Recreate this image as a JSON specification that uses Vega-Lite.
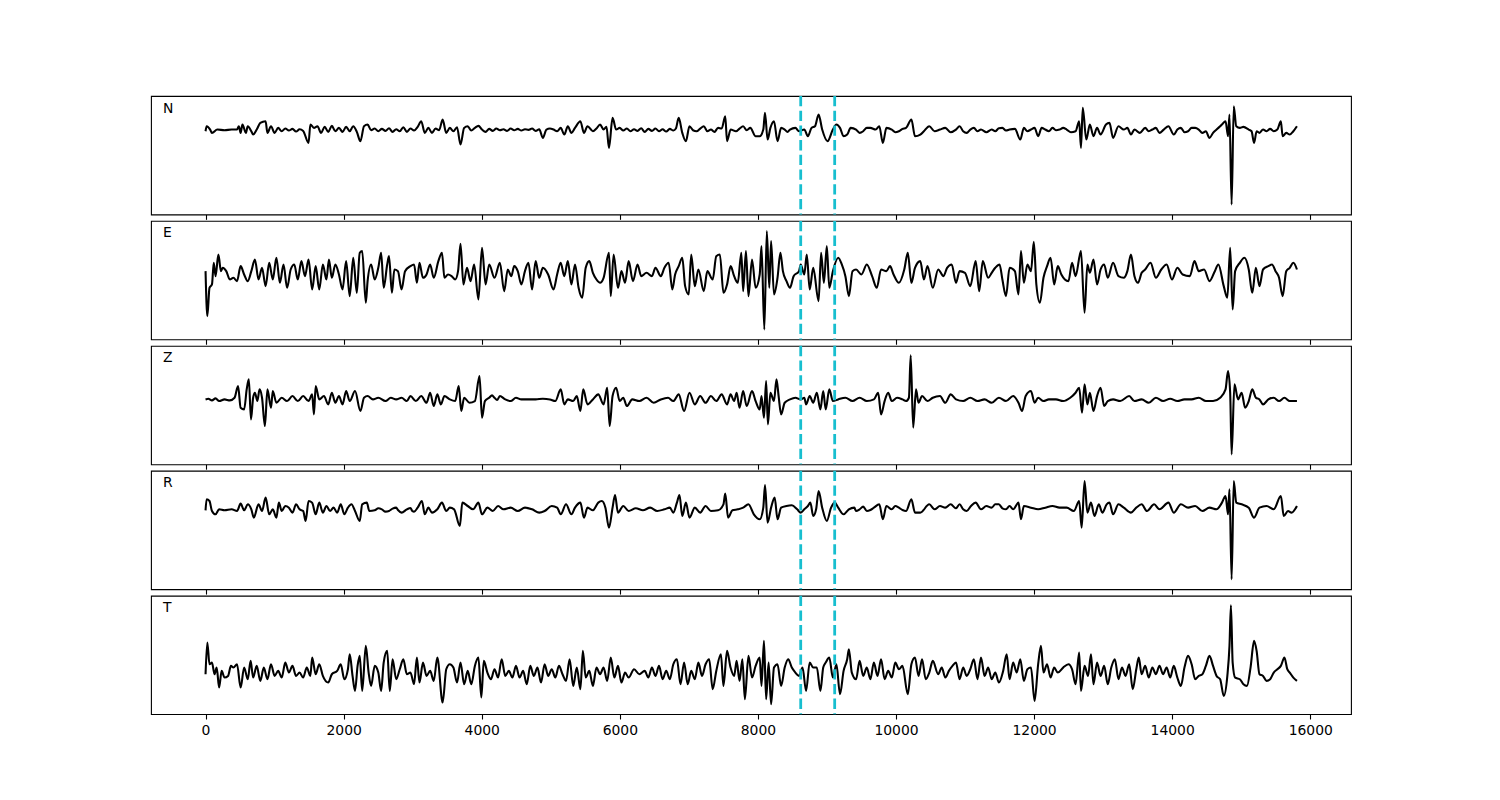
{
"$schema":"https://vega.github.io/schema/vega-lite/v6.json",
"background":"white",
"padding":{"left":150,"top":94,"right":10,"bottom":10},
"spacing":5.92,
"bounds":"flush",
"config":{"view":{"stroke":"black","strokeWidth":1.1},"font":"DejaVu Sans","axis":{"domain":false,"grid":false,"ticks":true,"tickSize":4.86,"tickWidth":1.1,"tickColor":"black","labelFont":"DejaVu Sans","labelFontSize":13.9,"labelColor":"black","labelPadding":4.86,"format":"d"}},
"datasets":{
"picks":[{"t":8620},{"t":9112}],
"trace":[
{"c":"N","x":0,"v":72},{"c":"N","x":16,"v":87},{"c":"N","x":67,"v":77},{"c":"N","x":93,"v":67},{"c":"N","x":171,"v":77},{"c":"N","x":275,"v":75},{"c":"N","x":378,"v":77},{"c":"N","x":456,"v":77},{"c":"N","x":482,"v":87},{"c":"N","x":508,"v":67},{"c":"N","x":534,"v":92},{"c":"N","x":585,"v":67},{"c":"N","x":611,"v":87},{"c":"N","x":663,"v":72},{"c":"N","x":689,"v":62},{"c":"N","x":741,"v":77},{"c":"N","x":793,"v":97},{"c":"N","x":870,"v":102},{"c":"N","x":896,"v":67},{"c":"N","x":948,"v":87},{"c":"N","x":1000,"v":67},{"c":"N","x":1052,"v":82},{"c":"N","x":1103,"v":72},{"c":"N","x":1155,"v":80},{"c":"N","x":1207,"v":74},{"c":"N","x":1259,"v":79},{"c":"N","x":1311,"v":71},{"c":"N","x":1362,"v":78},{"c":"N","x":1414,"v":73},{"c":"N","x":1492,"v":37},{"c":"N","x":1518,"v":92},{"c":"N","x":1570,"v":82},{"c":"N","x":1621,"v":87},{"c":"N","x":1673,"v":67},{"c":"N","x":1725,"v":85},{"c":"N","x":1777,"v":70},{"c":"N","x":1829,"v":88},{"c":"N","x":1880,"v":72},{"c":"N","x":1932,"v":82},{"c":"N","x":1984,"v":70},{"c":"N","x":2036,"v":85},{"c":"N","x":2088,"v":72},{"c":"N","x":2139,"v":87},{"c":"N","x":2191,"v":70},{"c":"N","x":2243,"v":42},{"c":"N","x":2295,"v":87},{"c":"N","x":2347,"v":92},{"c":"N","x":2398,"v":75},{"c":"N","x":2450,"v":80},{"c":"N","x":2502,"v":72},{"c":"N","x":2554,"v":79},{"c":"N","x":2606,"v":73},{"c":"N","x":2657,"v":81},{"c":"N","x":2709,"v":70},{"c":"N","x":2761,"v":78},{"c":"N","x":2813,"v":72},{"c":"N","x":2864,"v":84},{"c":"N","x":2916,"v":70},{"c":"N","x":2968,"v":80},{"c":"N","x":3020,"v":74},{"c":"N","x":3072,"v":85},{"c":"N","x":3124,"v":102},{"c":"N","x":3175,"v":67},{"c":"N","x":3227,"v":82},{"c":"N","x":3279,"v":67},{"c":"N","x":3331,"v":80},{"c":"N","x":3383,"v":75},{"c":"N","x":3434,"v":107},{"c":"N","x":3486,"v":67},{"c":"N","x":3538,"v":82},{"c":"N","x":3590,"v":72},{"c":"N","x":3642,"v":84},{"c":"N","x":3693,"v":32},{"c":"N","x":3745,"v":82},{"c":"N","x":3797,"v":87},{"c":"N","x":3849,"v":74},{"c":"N","x":3901,"v":82},{"c":"N","x":3952,"v":88},{"c":"N","x":4004,"v":77},{"c":"N","x":4056,"v":70},{"c":"N","x":4108,"v":79},{"c":"N","x":4160,"v":73},{"c":"N","x":4211,"v":80},{"c":"N","x":4263,"v":75},{"c":"N","x":4315,"v":78},{"c":"N","x":4367,"v":73},{"c":"N","x":4419,"v":80},{"c":"N","x":4470,"v":75},{"c":"N","x":4522,"v":79},{"c":"N","x":4574,"v":74},{"c":"N","x":4626,"v":78},{"c":"N","x":4677,"v":76},{"c":"N","x":4729,"v":80},{"c":"N","x":4781,"v":73},{"c":"N","x":4833,"v":78},{"c":"N","x":4885,"v":52},{"c":"N","x":4937,"v":77},{"c":"N","x":4988,"v":80},{"c":"N","x":5040,"v":77},{"c":"N","x":5092,"v":72},{"c":"N","x":5144,"v":82},{"c":"N","x":5196,"v":62},{"c":"N","x":5247,"v":87},{"c":"N","x":5299,"v":67},{"c":"N","x":5351,"v":82},{"c":"N","x":5429,"v":102},{"c":"N","x":5480,"v":67},{"c":"N","x":5532,"v":87},{"c":"N","x":5610,"v":72},{"c":"N","x":5662,"v":80},{"c":"N","x":5714,"v":92},{"c":"N","x":5765,"v":77},{"c":"N","x":5807,"v":85},{"c":"N","x":5843,"v":22},{"c":"N","x":5895,"v":112},{"c":"N","x":5947,"v":77},{"c":"N","x":5998,"v":82},{"c":"N","x":6050,"v":74},{"c":"N","x":6102,"v":80},{"c":"N","x":6154,"v":72},{"c":"N","x":6206,"v":78},{"c":"N","x":6257,"v":73},{"c":"N","x":6309,"v":81},{"c":"N","x":6361,"v":70},{"c":"N","x":6413,"v":79},{"c":"N","x":6465,"v":73},{"c":"N","x":6516,"v":80},{"c":"N","x":6568,"v":72},{"c":"N","x":6620,"v":78},{"c":"N","x":6672,"v":71},{"c":"N","x":6724,"v":79},{"c":"N","x":6776,"v":74},{"c":"N","x":6812,"v":80},{"c":"N","x":6853,"v":112},{"c":"N","x":6905,"v":67},{"c":"N","x":6957,"v":42},{"c":"N","x":7009,"v":87},{"c":"N","x":7060,"v":75},{"c":"N","x":7112,"v":72},{"c":"N","x":7164,"v":80},{"c":"N","x":7216,"v":87},{"c":"N","x":7268,"v":72},{"c":"N","x":7320,"v":77},{"c":"N","x":7371,"v":70},{"c":"N","x":7423,"v":82},{"c":"N","x":7475,"v":80},{"c":"N","x":7527,"v":117},{"c":"N","x":7553,"v":42},{"c":"N","x":7605,"v":77},{"c":"N","x":7682,"v":72},{"c":"N","x":7734,"v":80},{"c":"N","x":7786,"v":87},{"c":"N","x":7838,"v":75},{"c":"N","x":7890,"v":82},{"c":"N","x":7967,"v":57},
{"c":"N","x":8026,"v":57},{"c":"N","x":8078,"v":77},{"c":"N","x":8103,"v":127},{"c":"N","x":8140,"v":47},{"c":"N","x":8181,"v":82},{"c":"N","x":8233,"v":102},{"c":"N","x":8284,"v":42},{"c":"N","x":8336,"v":82},{"c":"N","x":8388,"v":77},{"c":"N","x":8429,"v":70},{"c":"N","x":8465,"v":77},{"c":"N","x":8543,"v":82},{"c":"N","x":8595,"v":72},{"c":"N","x":8672,"v":77},{"c":"N","x":8724,"v":57},{"c":"N","x":8776,"v":82},{"c":"N","x":8827,"v":87},{"c":"N","x":8879,"v":122},{"c":"N","x":8931,"v":77},{"c":"N","x":9008,"v":42},{"c":"N","x":9086,"v":77},{"c":"N","x":9137,"v":92},{"c":"N","x":9189,"v":82},{"c":"N","x":9241,"v":57},{"c":"N","x":9293,"v":62},{"c":"N","x":9344,"v":82},{"c":"N","x":9422,"v":77},{"c":"N","x":9473,"v":67},{"c":"N","x":9525,"v":72},{"c":"N","x":9577,"v":82},{"c":"N","x":9629,"v":82},{"c":"N","x":9706,"v":77},{"c":"N","x":9758,"v":87},{"c":"N","x":9810,"v":37},{"c":"N","x":9861,"v":82},{"c":"N","x":9939,"v":77},{"c":"N","x":9990,"v":69},{"c":"N","x":10042,"v":72},{"c":"N","x":10094,"v":79},{"c":"N","x":10146,"v":82},{"c":"N","x":10223,"v":107},{"c":"N","x":10275,"v":57},{"c":"N","x":10352,"v":62},{"c":"N","x":10404,"v":72},{"c":"N","x":10482,"v":87},{"c":"N","x":10559,"v":72},{"c":"N","x":10637,"v":77},{"c":"N","x":10714,"v":82},{"c":"N","x":10792,"v":69},{"c":"N","x":10869,"v":77},{"c":"N","x":10921,"v":87},{"c":"N","x":10973,"v":72},{"c":"N","x":11024,"v":67},{"c":"N","x":11076,"v":77},{"c":"N","x":11128,"v":82},{"c":"N","x":11180,"v":72},{"c":"N","x":11231,"v":77},{"c":"N","x":11309,"v":69},{"c":"N","x":11386,"v":77},{"c":"N","x":11438,"v":72},{"c":"N","x":11490,"v":81},{"c":"N","x":11541,"v":82},{"c":"N","x":11593,"v":74},{"c":"N","x":11645,"v":77},{"c":"N","x":11722,"v":79},{"c":"N","x":11800,"v":47},{"c":"N","x":11852,"v":82},{"c":"N","x":11903,"v":72},{"c":"N","x":11955,"v":77},{"c":"N","x":12007,"v":82},{"c":"N","x":12059,"v":57},{"c":"N","x":12110,"v":82},{"c":"N","x":12162,"v":77},{"c":"N","x":12214,"v":72},{"c":"N","x":12266,"v":82},{"c":"N","x":12317,"v":75},{"c":"N","x":12369,"v":77},{"c":"N","x":12421,"v":82},{"c":"N","x":12472,"v":77},{"c":"N","x":12534,"v":69},{"c":"N","x":12601,"v":72},{"c":"N","x":12653,"v":102},{"c":"N","x":12679,"v":22},{"c":"N","x":12705,"v":142},{"c":"N","x":12756,"v":47},{"c":"N","x":12808,"v":92},{"c":"N","x":12860,"v":57},{"c":"N","x":12912,"v":82},{"c":"N","x":12963,"v":62},{"c":"N","x":13041,"v":92},{"c":"N","x":13092,"v":97},{"c":"N","x":13144,"v":52},{"c":"N","x":13222,"v":87},{"c":"N","x":13299,"v":77},{"c":"N","x":13351,"v":82},{"c":"N","x":13403,"v":62},{"c":"N","x":13454,"v":77},{"c":"N","x":13532,"v":67},{"c":"N","x":13609,"v":82},{"c":"N","x":13661,"v":72},{"c":"N","x":13713,"v":77},{"c":"N","x":13764,"v":82},{"c":"N","x":13816,"v":67},{"c":"N","x":13878,"v":77},{"c":"N","x":13946,"v":87},{"c":"N","x":14023,"v":62},{"c":"N","x":14075,"v":77},{"c":"N","x":14126,"v":82},{"c":"N","x":14178,"v":69},{"c":"N","x":14230,"v":72},{"c":"N","x":14282,"v":82},{"c":"N","x":14333,"v":82},{"c":"N","x":14385,"v":77},{"c":"N","x":14437,"v":67},{"c":"N","x":14488,"v":72},{"c":"N","x":14540,"v":52},{"c":"N","x":14592,"v":67},{"c":"N","x":14643,"v":77},{"c":"N","x":14695,"v":87},{"c":"N","x":14721,"v":92},{"c":"N","x":14773,"v":102},{"c":"N","x":14809,"v":57},{"c":"N","x":14830,"v":122},{"c":"N","x":14861,"v":-148},{"c":"N","x":14892,"v":147},{"c":"N","x":14928,"v":87},{"c":"N","x":14980,"v":82},{"c":"N","x":15032,"v":85},{"c":"N","x":15109,"v":77},{"c":"N","x":15150,"v":72},{"c":"N","x":15186,"v":37},{"c":"N","x":15223,"v":72},{"c":"N","x":15264,"v":67},{"c":"N","x":15316,"v":77},{"c":"N","x":15367,"v":72},{"c":"N","x":15419,"v":79},{"c":"N","x":15471,"v":72},{"c":"N","x":15523,"v":77},{"c":"N","x":15574,"v":102},{"c":"N","x":15600,"v":57},{"c":"N","x":15652,"v":67},{"c":"N","x":15703,"v":62},{"c":"N","x":15755,"v":72},{"c":"N","x":15807,"v":87},
{"c":"E","x":0,"v":27},{"c":"E","x":26,"v":-108},{"c":"E","x":57,"v":-23},{"c":"E","x":93,"v":-13},{"c":"E","x":119,"v":52},{"c":"E","x":145,"v":12},{"c":"E","x":186,"v":77},{"c":"E","x":223,"v":27},{"c":"E","x":249,"v":37},{"c":"E","x":300,"v":27},{"c":"E","x":352,"v":2},{"c":"E","x":404,"v":7},{"c":"E","x":456,"v":-3},{"c":"E","x":508,"v":42},{"c":"E","x":559,"v":17},{"c":"E","x":611,"v":-3},{"c":"E","x":663,"v":27},{"c":"E","x":715,"v":62},{"c":"E","x":767,"v":2},{"c":"E","x":818,"v":37},{"c":"E","x":870,"v":-18},{"c":"E","x":922,"v":52},{"c":"E","x":974,"v":2},{"c":"E","x":1026,"v":67},{"c":"E","x":1077,"v":-8},{"c":"E","x":1129,"v":47},{"c":"E","x":1181,"v":-23},{"c":"E","x":1233,"v":32},{"c":"E","x":1285,"v":47},{"c":"E","x":1336,"v":2},{"c":"E","x":1388,"v":57},{"c":"E","x":1440,"v":12},{"c":"E","x":1492,"v":62},{"c":"E","x":1544,"v":-28},{"c":"E","x":1595,"v":42},{"c":"E","x":1647,"v":-28},{"c":"E","x":1699,"v":47},{"c":"E","x":1751,"v":2},{"c":"E","x":1787,"v":62},{"c":"E","x":1829,"v":7},{"c":"E","x":1880,"v":47},{"c":"E","x":1932,"v":17},{"c":"E","x":1984,"v":-28},{"c":"E","x":2036,"v":57},{"c":"E","x":2088,"v":-48},{"c":"E","x":2139,"v":67},{"c":"E","x":2191,"v":-38},{"c":"E","x":2233,"v":82},{"c":"E","x":2269,"v":87},{"c":"E","x":2321,"v":-68},{"c":"E","x":2347,"v":-3},{"c":"E","x":2398,"v":47},{"c":"E","x":2450,"v":2},{"c":"E","x":2502,"v":37},{"c":"E","x":2543,"v":82},{"c":"E","x":2580,"v":-23},{"c":"E","x":2631,"v":47},{"c":"E","x":2657,"v":72},{"c":"E","x":2699,"v":-38},{"c":"E","x":2735,"v":32},{"c":"E","x":2787,"v":27},{"c":"E","x":2839,"v":-28},{"c":"E","x":2890,"v":27},{"c":"E","x":2968,"v":42},{"c":"E","x":3020,"v":47},{"c":"E","x":3061,"v":-8},{"c":"E","x":3098,"v":52},{"c":"E","x":3149,"v":7},{"c":"E","x":3201,"v":17},{"c":"E","x":3253,"v":47},{"c":"E","x":3305,"v":7},{"c":"E","x":3372,"v":57},{"c":"E","x":3424,"v":82},{"c":"E","x":3460,"v":7},{"c":"E","x":3512,"v":17},{"c":"E","x":3564,"v":12},{"c":"E","x":3616,"v":2},{"c":"E","x":3657,"v":27},{"c":"E","x":3693,"v":109},{"c":"E","x":3735,"v":-13},{"c":"E","x":3787,"v":37},{"c":"E","x":3838,"v":-3},{"c":"E","x":3890,"v":47},{"c":"E","x":3952,"v":-58},{"c":"E","x":4004,"v":97},{"c":"E","x":4056,"v":-13},{"c":"E","x":4108,"v":47},{"c":"E","x":4185,"v":7},{"c":"E","x":4263,"v":52},{"c":"E","x":4325,"v":-33},{"c":"E","x":4377,"v":32},{"c":"E","x":4429,"v":12},{"c":"E","x":4470,"v":42},{"c":"E","x":4522,"v":27},{"c":"E","x":4574,"v":-13},{"c":"E","x":4626,"v":27},{"c":"E","x":4677,"v":52},{"c":"E","x":4729,"v":-28},{"c":"E","x":4781,"v":57},{"c":"E","x":4833,"v":7},{"c":"E","x":4885,"v":37},{"c":"E","x":4962,"v":17},{"c":"E","x":5040,"v":-28},{"c":"E","x":5092,"v":17},{"c":"E","x":5144,"v":52},{"c":"E","x":5196,"v":12},{"c":"E","x":5247,"v":57},{"c":"E","x":5299,"v":-13},{"c":"E","x":5351,"v":47},{"c":"E","x":5403,"v":-23},{"c":"E","x":5455,"v":-53},{"c":"E","x":5506,"v":37},{"c":"E","x":5558,"v":57},{"c":"E","x":5610,"v":22},{"c":"E","x":5662,"v":2},{"c":"E","x":5714,"v":-8},{"c":"E","x":5765,"v":7},{"c":"E","x":5843,"v":82},{"c":"E","x":5869,"v":-48},{"c":"E","x":5910,"v":77},{"c":"E","x":5973,"v":-23},{"c":"E","x":6024,"v":27},{"c":"E","x":6076,"v":-8},{"c":"E","x":6128,"v":57},{"c":"E","x":6190,"v":-3},{"c":"E","x":6257,"v":47},{"c":"E","x":6309,"v":12},{"c":"E","x":6387,"v":22},{"c":"E","x":6465,"v":12},{"c":"E","x":6516,"v":37},{"c":"E","x":6594,"v":12},{"c":"E","x":6646,"v":37},{"c":"E","x":6708,"v":52},{"c":"E","x":6760,"v":-28},{"c":"E","x":6801,"v":17},{"c":"E","x":6853,"v":42},{"c":"E","x":6905,"v":67},{"c":"E","x":6946,"v":-18},{"c":"E","x":6998,"v":-43},{"c":"E","x":7034,"v":77},{"c":"E","x":7086,"v":-18},{"c":"E","x":7138,"v":32},{"c":"E","x":7216,"v":-33},{"c":"E","x":7268,"v":27},{"c":"E","x":7345,"v":2},{"c":"E","x":7397,"v":72},{"c":"E","x":7449,"v":77},{"c":"E","x":7501,"v":-38},{"c":"E","x":7553,"v":-13},{"c":"E","x":7605,"v":42},{"c":"E","x":7656,"v":12},{"c":"E","x":7708,"v":-8},{"c":"E","x":7760,"v":82},{"c":"E","x":7786,"v":-33},{"c":"E","x":7827,"v":87},{"c":"E","x":7863,"v":-48},{"c":"E","x":7915,"v":62},{"c":"E","x":7967,"v":-23},
{"c":"E","x":8026,"v":17},{"c":"E","x":8052,"v":102},{"c":"E","x":8093,"v":-148},{"c":"E","x":8129,"v":147},{"c":"E","x":8165,"v":-23},{"c":"E","x":8191,"v":117},{"c":"E","x":8233,"v":-43},{"c":"E","x":8284,"v":7},{"c":"E","x":8326,"v":82},{"c":"E","x":8362,"v":27},{"c":"E","x":8414,"v":-3},{"c":"E","x":8465,"v":-23},{"c":"E","x":8517,"v":12},{"c":"E","x":8595,"v":27},{"c":"E","x":8620,"v":47},{"c":"E","x":8672,"v":17},{"c":"E","x":8708,"v":77},{"c":"E","x":8750,"v":-28},{"c":"E","x":8801,"v":37},{"c":"E","x":8879,"v":-63},{"c":"E","x":8915,"v":82},{"c":"E","x":8956,"v":-8},{"c":"E","x":8998,"v":102},{"c":"E","x":9034,"v":-23},{"c":"E","x":9086,"v":27},{"c":"E","x":9163,"v":67},{"c":"E","x":9215,"v":47},{"c":"E","x":9267,"v":12},{"c":"E","x":9318,"v":-48},{"c":"E","x":9370,"v":27},{"c":"E","x":9422,"v":32},{"c":"E","x":9499,"v":17},{"c":"E","x":9577,"v":47},{"c":"E","x":9654,"v":12},{"c":"E","x":9722,"v":-23},{"c":"E","x":9784,"v":32},{"c":"E","x":9861,"v":27},{"c":"E","x":9913,"v":42},{"c":"E","x":9965,"v":17},{"c":"E","x":10042,"v":-8},{"c":"E","x":10120,"v":32},{"c":"E","x":10171,"v":82},{"c":"E","x":10223,"v":-8},{"c":"E","x":10275,"v":37},{"c":"E","x":10352,"v":57},{"c":"E","x":10404,"v":2},{"c":"E","x":10456,"v":42},{"c":"E","x":10533,"v":-23},{"c":"E","x":10611,"v":32},{"c":"E","x":10688,"v":12},{"c":"E","x":10740,"v":37},{"c":"E","x":10807,"v":47},{"c":"E","x":10869,"v":-8},{"c":"E","x":10921,"v":27},{"c":"E","x":10999,"v":22},{"c":"E","x":11076,"v":-18},{"c":"E","x":11154,"v":57},{"c":"E","x":11205,"v":-33},{"c":"E","x":11257,"v":57},{"c":"E","x":11335,"v":7},{"c":"E","x":11386,"v":22},{"c":"E","x":11438,"v":37},{"c":"E","x":11500,"v":47},{"c":"E","x":11541,"v":2},{"c":"E","x":11593,"v":-48},{"c":"E","x":11645,"v":37},{"c":"E","x":11722,"v":27},{"c":"E","x":11774,"v":-43},{"c":"E","x":11810,"v":87},{"c":"E","x":11852,"v":-8},{"c":"E","x":11903,"v":47},{"c":"E","x":11955,"v":27},{"c":"E","x":11996,"v":115},{"c":"E","x":12033,"v":-13},{"c":"E","x":12084,"v":-68},{"c":"E","x":12136,"v":7},{"c":"E","x":12188,"v":42},{"c":"E","x":12239,"v":67},{"c":"E","x":12291,"v":-13},{"c":"E","x":12343,"v":42},{"c":"E","x":12395,"v":17},{"c":"E","x":12446,"v":2},{"c":"E","x":12498,"v":-3},{"c":"E","x":12550,"v":52},{"c":"E","x":12601,"v":12},{"c":"E","x":12679,"v":87},{"c":"E","x":12731,"v":-98},{"c":"E","x":12772,"v":47},{"c":"E","x":12808,"v":22},{"c":"E","x":12860,"v":62},{"c":"E","x":12912,"v":-13},{"c":"E","x":12963,"v":32},{"c":"E","x":13015,"v":47},{"c":"E","x":13067,"v":7},{"c":"E","x":13144,"v":52},{"c":"E","x":13222,"v":12},{"c":"E","x":13299,"v":7},{"c":"E","x":13351,"v":27},{"c":"E","x":13403,"v":77},{"c":"E","x":13454,"v":12},{"c":"E","x":13506,"v":-8},{"c":"E","x":13558,"v":22},{"c":"E","x":13609,"v":32},{"c":"E","x":13687,"v":52},{"c":"E","x":13764,"v":7},{"c":"E","x":13842,"v":32},{"c":"E","x":13920,"v":47},{"c":"E","x":13997,"v":2},{"c":"E","x":14075,"v":37},{"c":"E","x":14152,"v":17},{"c":"E","x":14256,"v":12},{"c":"E","x":14323,"v":57},{"c":"E","x":14385,"v":27},{"c":"E","x":14463,"v":32},{"c":"E","x":14540,"v":-3},{"c":"E","x":14618,"v":27},{"c":"E","x":14669,"v":47},{"c":"E","x":14747,"v":-18},{"c":"E","x":14799,"v":-53},{"c":"E","x":14840,"v":97},{"c":"E","x":14876,"v":-88},{"c":"E","x":14912,"v":27},{"c":"E","x":14980,"v":52},{"c":"E","x":15047,"v":67},{"c":"E","x":15109,"v":32},{"c":"E","x":15160,"v":-38},{"c":"E","x":15212,"v":37},{"c":"E","x":15264,"v":-18},{"c":"E","x":15316,"v":32},{"c":"E","x":15393,"v":42},{"c":"E","x":15445,"v":47},{"c":"E","x":15497,"v":27},{"c":"E","x":15548,"v":7},{"c":"E","x":15600,"v":-48},{"c":"E","x":15652,"v":27},{"c":"E","x":15703,"v":37},{"c":"E","x":15755,"v":52},{"c":"E","x":15807,"v":32},
{"c":"Z","x":0,"v":17},{"c":"Z","x":41,"v":19},{"c":"Z","x":93,"v":14},{"c":"Z","x":145,"v":20},{"c":"Z","x":197,"v":12},{"c":"Z","x":275,"v":17},{"c":"Z","x":352,"v":14},{"c":"Z","x":420,"v":22},{"c":"Z","x":471,"v":57},{"c":"Z","x":508,"v":-8},{"c":"Z","x":559,"v":-13},{"c":"Z","x":596,"v":47},{"c":"Z","x":627,"v":77},{"c":"Z","x":658,"v":-43},{"c":"Z","x":689,"v":22},{"c":"Z","x":715,"v":37},{"c":"Z","x":751,"v":12},{"c":"Z","x":782,"v":47},{"c":"Z","x":818,"v":22},{"c":"Z","x":860,"v":-63},{"c":"Z","x":896,"v":47},{"c":"Z","x":948,"v":-8},{"c":"Z","x":974,"v":42},{"c":"Z","x":1026,"v":7},{"c":"Z","x":1103,"v":22},{"c":"Z","x":1181,"v":12},{"c":"Z","x":1259,"v":27},{"c":"Z","x":1336,"v":12},{"c":"Z","x":1414,"v":27},{"c":"Z","x":1492,"v":12},{"c":"Z","x":1544,"v":32},{"c":"Z","x":1570,"v":-28},{"c":"Z","x":1595,"v":57},{"c":"Z","x":1647,"v":17},{"c":"Z","x":1715,"v":27},{"c":"Z","x":1777,"v":2},{"c":"Z","x":1829,"v":37},{"c":"Z","x":1880,"v":7},{"c":"Z","x":1932,"v":27},{"c":"Z","x":1984,"v":2},{"c":"Z","x":2036,"v":42},{"c":"Z","x":2088,"v":12},{"c":"Z","x":2165,"v":42},{"c":"Z","x":2243,"v":-18},{"c":"Z","x":2295,"v":22},{"c":"Z","x":2347,"v":27},{"c":"Z","x":2424,"v":17},{"c":"Z","x":2502,"v":22},{"c":"Z","x":2606,"v":12},{"c":"Z","x":2683,"v":22},{"c":"Z","x":2761,"v":17},{"c":"Z","x":2839,"v":22},{"c":"Z","x":2916,"v":12},{"c":"Z","x":2968,"v":27},{"c":"Z","x":3046,"v":12},{"c":"Z","x":3124,"v":27},{"c":"Z","x":3201,"v":7},{"c":"Z","x":3253,"v":37},{"c":"Z","x":3305,"v":-3},{"c":"Z","x":3357,"v":32},{"c":"Z","x":3408,"v":2},{"c":"Z","x":3460,"v":27},{"c":"Z","x":3538,"v":17},{"c":"Z","x":3616,"v":12},{"c":"Z","x":3667,"v":57},{"c":"Z","x":3704,"v":-18},{"c":"Z","x":3745,"v":22},{"c":"Z","x":3823,"v":7},{"c":"Z","x":3901,"v":12},{"c":"Z","x":3968,"v":87},{"c":"Z","x":4004,"v":-38},{"c":"Z","x":4046,"v":12},{"c":"Z","x":4108,"v":22},{"c":"Z","x":4149,"v":29},{"c":"Z","x":4185,"v":22},{"c":"Z","x":4222,"v":15},{"c":"Z","x":4263,"v":27},{"c":"Z","x":4341,"v":17},{"c":"Z","x":4419,"v":12},{"c":"Z","x":4496,"v":22},{"c":"Z","x":4574,"v":17},{"c":"Z","x":4677,"v":17},{"c":"Z","x":4781,"v":17},{"c":"Z","x":4885,"v":19},{"c":"Z","x":4988,"v":17},{"c":"Z","x":5066,"v":12},{"c":"Z","x":5144,"v":47},{"c":"Z","x":5196,"v":2},{"c":"Z","x":5247,"v":17},{"c":"Z","x":5325,"v":12},{"c":"Z","x":5377,"v":27},{"c":"Z","x":5429,"v":-18},{"c":"Z","x":5470,"v":47},{"c":"Z","x":5532,"v":2},{"c":"Z","x":5610,"v":17},{"c":"Z","x":5688,"v":32},{"c":"Z","x":5765,"v":2},{"c":"Z","x":5817,"v":52},{"c":"Z","x":5853,"v":-63},{"c":"Z","x":5895,"v":27},{"c":"Z","x":5947,"v":52},{"c":"Z","x":5998,"v":12},{"c":"Z","x":6050,"v":22},{"c":"Z","x":6102,"v":-3},{"c":"Z","x":6180,"v":17},{"c":"Z","x":6283,"v":12},{"c":"Z","x":6387,"v":22},{"c":"Z","x":6491,"v":7},{"c":"Z","x":6594,"v":17},{"c":"Z","x":6698,"v":22},{"c":"Z","x":6775,"v":12},{"c":"Z","x":6853,"v":32},{"c":"Z","x":6931,"v":-18},{"c":"Z","x":7009,"v":37},{"c":"Z","x":7086,"v":2},{"c":"Z","x":7164,"v":27},{"c":"Z","x":7242,"v":7},{"c":"Z","x":7319,"v":27},{"c":"Z","x":7397,"v":12},{"c":"Z","x":7475,"v":32},{"c":"Z","x":7553,"v":2},{"c":"Z","x":7604,"v":32},{"c":"Z","x":7656,"v":12},{"c":"Z","x":7692,"v":37},{"c":"Z","x":7734,"v":-8},{"c":"Z","x":7786,"v":42},{"c":"Z","x":7838,"v":-3},{"c":"Z","x":7915,"v":42},{"c":"Z","x":7967,"v":12},
{"c":"Z","x":8026,"v":-13},{"c":"Z","x":8052,"v":27},{"c":"Z","x":8088,"v":-38},{"c":"Z","x":8119,"v":72},{"c":"Z","x":8145,"v":-58},{"c":"Z","x":8181,"v":37},{"c":"Z","x":8233,"v":12},{"c":"Z","x":8269,"v":77},{"c":"Z","x":8300,"v":27},{"c":"Z","x":8336,"v":-28},{"c":"Z","x":8388,"v":7},{"c":"Z","x":8465,"v":17},{"c":"Z","x":8543,"v":22},{"c":"Z","x":8620,"v":17},{"c":"Z","x":8672,"v":22},{"c":"Z","x":8698,"v":2},{"c":"Z","x":8750,"v":27},{"c":"Z","x":8801,"v":7},{"c":"Z","x":8853,"v":37},{"c":"Z","x":8905,"v":-13},{"c":"Z","x":8946,"v":42},{"c":"Z","x":8982,"v":-13},{"c":"Z","x":9034,"v":47},{"c":"Z","x":9086,"v":12},{"c":"Z","x":9163,"v":17},{"c":"Z","x":9267,"v":22},{"c":"Z","x":9370,"v":12},{"c":"Z","x":9473,"v":22},{"c":"Z","x":9577,"v":12},{"c":"Z","x":9680,"v":17},{"c":"Z","x":9742,"v":37},{"c":"Z","x":9784,"v":-28},{"c":"Z","x":9835,"v":12},{"c":"Z","x":9887,"v":37},{"c":"Z","x":9939,"v":12},{"c":"Z","x":10016,"v":22},{"c":"Z","x":10094,"v":17},{"c":"Z","x":10146,"v":12},{"c":"Z","x":10187,"v":22},{"c":"Z","x":10213,"v":149},{"c":"Z","x":10249,"v":-68},{"c":"Z","x":10290,"v":47},{"c":"Z","x":10326,"v":7},{"c":"Z","x":10378,"v":27},{"c":"Z","x":10456,"v":12},{"c":"Z","x":10533,"v":22},{"c":"Z","x":10637,"v":27},{"c":"Z","x":10714,"v":7},{"c":"Z","x":10792,"v":32},{"c":"Z","x":10869,"v":17},{"c":"Z","x":10973,"v":12},{"c":"Z","x":11076,"v":22},{"c":"Z","x":11180,"v":12},{"c":"Z","x":11283,"v":17},{"c":"Z","x":11386,"v":7},{"c":"Z","x":11490,"v":22},{"c":"Z","x":11593,"v":12},{"c":"Z","x":11697,"v":27},{"c":"Z","x":11774,"v":7},{"c":"Z","x":11826,"v":-18},{"c":"Z","x":11878,"v":27},{"c":"Z","x":11955,"v":42},{"c":"Z","x":12007,"v":7},{"c":"Z","x":12059,"v":22},{"c":"Z","x":12136,"v":12},{"c":"Z","x":12214,"v":17},{"c":"Z","x":12317,"v":17},{"c":"Z","x":12421,"v":12},{"c":"Z","x":12524,"v":22},{"c":"Z","x":12601,"v":37},{"c":"Z","x":12653,"v":52},{"c":"Z","x":12694,"v":-23},{"c":"Z","x":12731,"v":62},{"c":"Z","x":12772,"v":2},{"c":"Z","x":12808,"v":37},{"c":"Z","x":12860,"v":-18},{"c":"Z","x":12912,"v":27},{"c":"Z","x":12963,"v":52},{"c":"Z","x":13015,"v":-3},{"c":"Z","x":13067,"v":12},{"c":"Z","x":13144,"v":17},{"c":"Z","x":13248,"v":12},{"c":"Z","x":13377,"v":27},{"c":"Z","x":13454,"v":12},{"c":"Z","x":13558,"v":17},{"c":"Z","x":13661,"v":7},{"c":"Z","x":13764,"v":22},{"c":"Z","x":13868,"v":12},{"c":"Z","x":13971,"v":19},{"c":"Z","x":14075,"v":12},{"c":"Z","x":14178,"v":17},{"c":"Z","x":14282,"v":17},{"c":"Z","x":14385,"v":22},{"c":"Z","x":14488,"v":12},{"c":"Z","x":14592,"v":12},{"c":"Z","x":14695,"v":22},{"c":"Z","x":14773,"v":47},{"c":"Z","x":14809,"v":102},{"c":"Z","x":14840,"v":37},{"c":"Z","x":14861,"v":-148},{"c":"Z","x":14902,"v":62},{"c":"Z","x":14954,"v":17},{"c":"Z","x":15006,"v":37},{"c":"Z","x":15057,"v":-8},{"c":"Z","x":15109,"v":12},{"c":"Z","x":15160,"v":47},{"c":"Z","x":15212,"v":22},{"c":"Z","x":15264,"v":17},{"c":"Z","x":15316,"v":2},{"c":"Z","x":15393,"v":17},{"c":"Z","x":15471,"v":22},{"c":"Z","x":15548,"v":12},{"c":"Z","x":15626,"v":22},{"c":"Z","x":15703,"v":12},{"c":"Z","x":15807,"v":12},
{"c":"R","x":0,"v":59},{"c":"R","x":16,"v":92},{"c":"R","x":57,"v":87},{"c":"R","x":93,"v":57},{"c":"R","x":145,"v":47},{"c":"R","x":197,"v":62},{"c":"R","x":275,"v":59},{"c":"R","x":378,"v":62},{"c":"R","x":456,"v":57},{"c":"R","x":508,"v":79},{"c":"R","x":559,"v":59},{"c":"R","x":611,"v":77},{"c":"R","x":663,"v":62},{"c":"R","x":699,"v":37},{"c":"R","x":767,"v":77},{"c":"R","x":818,"v":57},{"c":"R","x":870,"v":97},{"c":"R","x":922,"v":47},{"c":"R","x":974,"v":62},{"c":"R","x":1026,"v":37},{"c":"R","x":1062,"v":82},{"c":"R","x":1103,"v":57},{"c":"R","x":1155,"v":72},{"c":"R","x":1207,"v":67},{"c":"R","x":1259,"v":52},{"c":"R","x":1311,"v":77},{"c":"R","x":1362,"v":62},{"c":"R","x":1414,"v":57},{"c":"R","x":1450,"v":27},{"c":"R","x":1492,"v":87},{"c":"R","x":1544,"v":82},{"c":"R","x":1595,"v":47},{"c":"R","x":1647,"v":82},{"c":"R","x":1699,"v":52},{"c":"R","x":1751,"v":72},{"c":"R","x":1803,"v":57},{"c":"R","x":1854,"v":67},{"c":"R","x":1906,"v":52},{"c":"R","x":1958,"v":77},{"c":"R","x":2010,"v":47},{"c":"R","x":2062,"v":67},{"c":"R","x":2113,"v":77},{"c":"R","x":2165,"v":57},{"c":"R","x":2233,"v":27},{"c":"R","x":2269,"v":77},{"c":"R","x":2336,"v":82},{"c":"R","x":2372,"v":57},{"c":"R","x":2450,"v":59},{"c":"R","x":2502,"v":65},{"c":"R","x":2554,"v":62},{"c":"R","x":2606,"v":55},{"c":"R","x":2657,"v":57},{"c":"R","x":2709,"v":64},{"c":"R","x":2761,"v":67},{"c":"R","x":2787,"v":60},{"c":"R","x":2839,"v":52},{"c":"R","x":2916,"v":62},{"c":"R","x":2968,"v":66},{"c":"R","x":2994,"v":57},{"c":"R","x":3020,"v":55},{"c":"R","x":3072,"v":67},{"c":"R","x":3134,"v":87},{"c":"R","x":3175,"v":47},{"c":"R","x":3227,"v":67},{"c":"R","x":3279,"v":52},{"c":"R","x":3357,"v":62},{"c":"R","x":3424,"v":82},{"c":"R","x":3486,"v":57},{"c":"R","x":3538,"v":67},{"c":"R","x":3600,"v":62},{"c":"R","x":3683,"v":12},{"c":"R","x":3719,"v":82},{"c":"R","x":3797,"v":72},{"c":"R","x":3875,"v":62},{"c":"R","x":3952,"v":82},{"c":"R","x":4004,"v":47},{"c":"R","x":4082,"v":67},{"c":"R","x":4160,"v":57},{"c":"R","x":4237,"v":72},{"c":"R","x":4315,"v":62},{"c":"R","x":4419,"v":67},{"c":"R","x":4522,"v":57},{"c":"R","x":4626,"v":67},{"c":"R","x":4729,"v":62},{"c":"R","x":4833,"v":52},{"c":"R","x":4911,"v":57},{"c":"R","x":5014,"v":72},{"c":"R","x":5092,"v":67},{"c":"R","x":5144,"v":47},{"c":"R","x":5221,"v":77},{"c":"R","x":5299,"v":47},{"c":"R","x":5351,"v":67},{"c":"R","x":5429,"v":82},{"c":"R","x":5480,"v":37},{"c":"R","x":5532,"v":67},{"c":"R","x":5610,"v":59},{"c":"R","x":5688,"v":82},{"c":"R","x":5739,"v":87},{"c":"R","x":5791,"v":67},{"c":"R","x":5843,"v":7},{"c":"R","x":5895,"v":67},{"c":"R","x":5931,"v":105},{"c":"R","x":5973,"v":52},{"c":"R","x":6050,"v":72},{"c":"R","x":6128,"v":57},{"c":"R","x":6232,"v":65},{"c":"R","x":6335,"v":59},{"c":"R","x":6439,"v":67},{"c":"R","x":6542,"v":57},{"c":"R","x":6646,"v":62},{"c":"R","x":6724,"v":67},{"c":"R","x":6775,"v":52},{"c":"R","x":6827,"v":82},{"c":"R","x":6864,"v":105},{"c":"R","x":6905,"v":42},{"c":"R","x":6957,"v":82},{"c":"R","x":7009,"v":37},{"c":"R","x":7086,"v":67},{"c":"R","x":7164,"v":52},{"c":"R","x":7242,"v":72},{"c":"R","x":7319,"v":57},{"c":"R","x":7423,"v":59},{"c":"R","x":7501,"v":77},{"c":"R","x":7527,"v":109},{"c":"R","x":7568,"v":37},{"c":"R","x":7631,"v":59},{"c":"R","x":7708,"v":62},{"c":"R","x":7786,"v":67},{"c":"R","x":7863,"v":77},{"c":"R","x":7941,"v":47},
{"c":"R","x":8026,"v":32},{"c":"R","x":8078,"v":67},{"c":"R","x":8103,"v":135},{"c":"R","x":8140,"v":22},{"c":"R","x":8191,"v":67},{"c":"R","x":8243,"v":97},{"c":"R","x":8284,"v":32},{"c":"R","x":8336,"v":67},{"c":"R","x":8414,"v":72},{"c":"R","x":8491,"v":74},{"c":"R","x":8569,"v":62},{"c":"R","x":8620,"v":52},{"c":"R","x":8672,"v":62},{"c":"R","x":8724,"v":72},{"c":"R","x":8760,"v":82},{"c":"R","x":8801,"v":42},{"c":"R","x":8843,"v":62},{"c":"R","x":8879,"v":117},{"c":"R","x":8931,"v":67},{"c":"R","x":8998,"v":27},{"c":"R","x":9060,"v":67},{"c":"R","x":9112,"v":82},{"c":"R","x":9163,"v":67},{"c":"R","x":9241,"v":47},{"c":"R","x":9318,"v":62},{"c":"R","x":9396,"v":67},{"c":"R","x":9422,"v":57},{"c":"R","x":9473,"v":62},{"c":"R","x":9525,"v":70},{"c":"R","x":9577,"v":57},{"c":"R","x":9629,"v":60},{"c":"R","x":9680,"v":67},{"c":"R","x":9758,"v":77},{"c":"R","x":9810,"v":32},{"c":"R","x":9861,"v":72},{"c":"R","x":9939,"v":62},{"c":"R","x":9990,"v":72},{"c":"R","x":10042,"v":67},{"c":"R","x":10094,"v":60},{"c":"R","x":10146,"v":57},{"c":"R","x":10223,"v":92},{"c":"R","x":10275,"v":52},{"c":"R","x":10352,"v":52},{"c":"R","x":10482,"v":77},{"c":"R","x":10559,"v":62},{"c":"R","x":10637,"v":72},{"c":"R","x":10714,"v":67},{"c":"R","x":10792,"v":77},{"c":"R","x":10869,"v":65},{"c":"R","x":10921,"v":77},{"c":"R","x":10973,"v":62},{"c":"R","x":11024,"v":57},{"c":"R","x":11086,"v":72},{"c":"R","x":11154,"v":82},{"c":"R","x":11231,"v":62},{"c":"R","x":11309,"v":72},{"c":"R","x":11386,"v":67},{"c":"R","x":11438,"v":77},{"c":"R","x":11490,"v":77},{"c":"R","x":11541,"v":65},{"c":"R","x":11593,"v":62},{"c":"R","x":11645,"v":72},{"c":"R","x":11697,"v":62},{"c":"R","x":11774,"v":82},{"c":"R","x":11810,"v":32},{"c":"R","x":11852,"v":72},{"c":"R","x":11955,"v":67},{"c":"R","x":12059,"v":62},{"c":"R","x":12162,"v":67},{"c":"R","x":12266,"v":72},{"c":"R","x":12369,"v":67},{"c":"R","x":12472,"v":67},{"c":"R","x":12576,"v":57},{"c":"R","x":12653,"v":87},{"c":"R","x":12689,"v":7},{"c":"R","x":12731,"v":147},{"c":"R","x":12772,"v":52},{"c":"R","x":12824,"v":82},{"c":"R","x":12875,"v":42},{"c":"R","x":12937,"v":77},{"c":"R","x":12989,"v":52},{"c":"R","x":13051,"v":77},{"c":"R","x":13092,"v":82},{"c":"R","x":13144,"v":47},{"c":"R","x":13222,"v":77},{"c":"R","x":13299,"v":67},{"c":"R","x":13403,"v":52},{"c":"R","x":13480,"v":67},{"c":"R","x":13558,"v":77},{"c":"R","x":13635,"v":57},{"c":"R","x":13739,"v":77},{"c":"R","x":13816,"v":62},{"c":"R","x":13946,"v":82},{"c":"R","x":14023,"v":52},{"c":"R","x":14126,"v":77},{"c":"R","x":14230,"v":67},{"c":"R","x":14333,"v":72},{"c":"R","x":14437,"v":57},{"c":"R","x":14540,"v":67},{"c":"R","x":14643,"v":62},{"c":"R","x":14721,"v":82},{"c":"R","x":14773,"v":102},{"c":"R","x":14809,"v":47},{"c":"R","x":14830,"v":122},{"c":"R","x":14861,"v":-148},{"c":"R","x":14892,"v":147},{"c":"R","x":14928,"v":82},{"c":"R","x":15006,"v":77},{"c":"R","x":15109,"v":67},{"c":"R","x":15186,"v":37},{"c":"R","x":15264,"v":67},{"c":"R","x":15367,"v":72},{"c":"R","x":15471,"v":62},{"c":"R","x":15574,"v":102},{"c":"R","x":15616,"v":42},{"c":"R","x":15678,"v":57},{"c":"R","x":15729,"v":52},{"c":"R","x":15807,"v":72},
{"c":"T","x":0,"v":-58},{"c":"T","x":26,"v":37},{"c":"T","x":57,"v":-28},{"c":"T","x":93,"v":-23},{"c":"T","x":130,"v":-58},{"c":"T","x":161,"v":-38},{"c":"T","x":197,"v":-98},{"c":"T","x":233,"v":-48},{"c":"T","x":275,"v":-68},{"c":"T","x":326,"v":-63},{"c":"T","x":368,"v":-33},{"c":"T","x":404,"v":-38},{"c":"T","x":456,"v":-28},{"c":"T","x":508,"v":-98},{"c":"T","x":559,"v":-38},{"c":"T","x":611,"v":-73},{"c":"T","x":653,"v":-18},{"c":"T","x":689,"v":-68},{"c":"T","x":741,"v":-33},{"c":"T","x":793,"v":-78},{"c":"T","x":844,"v":-38},{"c":"T","x":896,"v":-73},{"c":"T","x":948,"v":-28},{"c":"T","x":1000,"v":-63},{"c":"T","x":1052,"v":-48},{"c":"T","x":1103,"v":-68},{"c":"T","x":1155,"v":-23},{"c":"T","x":1207,"v":-53},{"c":"T","x":1259,"v":-33},{"c":"T","x":1311,"v":-63},{"c":"T","x":1362,"v":-53},{"c":"T","x":1414,"v":-68},{"c":"T","x":1466,"v":-38},{"c":"T","x":1518,"v":-63},{"c":"T","x":1544,"v":-8},{"c":"T","x":1595,"v":-58},{"c":"T","x":1647,"v":-28},{"c":"T","x":1699,"v":-63},{"c":"T","x":1777,"v":-83},{"c":"T","x":1829,"v":-58},{"c":"T","x":1906,"v":-48},{"c":"T","x":1958,"v":-28},{"c":"T","x":2010,"v":-73},{"c":"T","x":2062,"v":-43},{"c":"T","x":2088,"v":2},{"c":"T","x":2129,"v":-63},{"c":"T","x":2165,"v":-108},{"c":"T","x":2202,"v":-33},{"c":"T","x":2233,"v":-3},{"c":"T","x":2269,"v":-108},{"c":"T","x":2321,"v":27},{"c":"T","x":2362,"v":-53},{"c":"T","x":2398,"v":-93},{"c":"T","x":2450,"v":-33},{"c":"T","x":2502,"v":-53},{"c":"T","x":2543,"v":-108},{"c":"T","x":2580,"v":-23},{"c":"T","x":2631,"v":12},{"c":"T","x":2668,"v":-108},{"c":"T","x":2709,"v":-13},{"c":"T","x":2761,"v":-73},{"c":"T","x":2813,"v":-43},{"c":"T","x":2864,"v":-13},{"c":"T","x":2916,"v":-58},{"c":"T","x":2968,"v":-53},{"c":"T","x":3020,"v":-88},{"c":"T","x":3061,"v":-8},{"c":"T","x":3098,"v":-83},{"c":"T","x":3149,"v":-23},{"c":"T","x":3201,"v":-63},{"c":"T","x":3253,"v":-48},{"c":"T","x":3305,"v":-78},{"c":"T","x":3357,"v":-8},{"c":"T","x":3434,"v":-143},{"c":"T","x":3486,"v":-43},{"c":"T","x":3538,"v":-28},{"c":"T","x":3590,"v":-38},{"c":"T","x":3642,"v":-83},{"c":"T","x":3693,"v":-23},{"c":"T","x":3745,"v":-88},{"c":"T","x":3797,"v":-48},{"c":"T","x":3849,"v":-88},{"c":"T","x":3901,"v":-33},{"c":"T","x":3952,"v":-8},{"c":"T","x":3994,"v":-128},{"c":"T","x":4030,"v":-18},{"c":"T","x":4082,"v":-53},{"c":"T","x":4134,"v":-73},{"c":"T","x":4185,"v":-43},{"c":"T","x":4237,"v":-68},{"c":"T","x":4289,"v":-13},{"c":"T","x":4341,"v":-63},{"c":"T","x":4393,"v":-48},{"c":"T","x":4444,"v":-68},{"c":"T","x":4496,"v":-33},{"c":"T","x":4548,"v":-68},{"c":"T","x":4600,"v":-48},{"c":"T","x":4652,"v":-88},{"c":"T","x":4703,"v":-33},{"c":"T","x":4755,"v":-63},{"c":"T","x":4807,"v":-38},{"c":"T","x":4859,"v":-83},{"c":"T","x":4911,"v":-28},{"c":"T","x":4962,"v":-63},{"c":"T","x":5014,"v":-43},{"c":"T","x":5066,"v":-68},{"c":"T","x":5118,"v":-33},{"c":"T","x":5170,"v":-58},{"c":"T","x":5221,"v":-78},{"c":"T","x":5273,"v":-13},{"c":"T","x":5325,"v":-93},{"c":"T","x":5377,"v":-38},{"c":"T","x":5429,"v":-103},{"c":"T","x":5465,"v":12},{"c":"T","x":5506,"v":-68},{"c":"T","x":5558,"v":-48},{"c":"T","x":5610,"v":-93},{"c":"T","x":5662,"v":-38},{"c":"T","x":5714,"v":-58},{"c":"T","x":5765,"v":-38},{"c":"T","x":5817,"v":-78},{"c":"T","x":5869,"v":-8},{"c":"T","x":5921,"v":-68},{"c":"T","x":5973,"v":-33},{"c":"T","x":6024,"v":-83},{"c":"T","x":6076,"v":-53},{"c":"T","x":6128,"v":-68},{"c":"T","x":6206,"v":-43},{"c":"T","x":6283,"v":-58},{"c":"T","x":6361,"v":-48},{"c":"T","x":6413,"v":-68},{"c":"T","x":6465,"v":-38},{"c":"T","x":6516,"v":-63},{"c":"T","x":6568,"v":-33},{"c":"T","x":6620,"v":-73},{"c":"T","x":6672,"v":-48},{"c":"T","x":6724,"v":-73},{"c":"T","x":6775,"v":-28},{"c":"T","x":6827,"v":-13},{"c":"T","x":6879,"v":-88},{"c":"T","x":6931,"v":-23},{"c":"T","x":6983,"v":-88},{"c":"T","x":7034,"v":-48},{"c":"T","x":7086,"v":-73},{"c":"T","x":7138,"v":-23},{"c":"T","x":7190,"v":-63},{"c":"T","x":7242,"v":-28},{"c":"T","x":7294,"v":-13},{"c":"T","x":7345,"v":-103},{"c":"T","x":7397,"v":-48},{"c":"T","x":7464,"v":2},{"c":"T","x":7501,"v":-93},{"c":"T","x":7553,"v":12},{"c":"T","x":7604,"v":-38},{"c":"T","x":7656,"v":-63},{"c":"T","x":7692,"v":-18},{"c":"T","x":7734,"v":-78},{"c":"T","x":7775,"v":-13},{"c":"T","x":7811,"v":-133},{"c":"T","x":7863,"v":-3},{"c":"T","x":7915,"v":-68},{"c":"T","x":7967,"v":-33},
{"c":"T","x":8026,"v":-8},{"c":"T","x":8052,"v":-93},{"c":"T","x":8088,"v":42},{"c":"T","x":8119,"v":-133},{"c":"T","x":8155,"v":-23},{"c":"T","x":8191,"v":-148},{"c":"T","x":8233,"v":-38},{"c":"T","x":8284,"v":-28},{"c":"T","x":8336,"v":-93},{"c":"T","x":8388,"v":-38},{"c":"T","x":8439,"v":-13},{"c":"T","x":8491,"v":-38},{"c":"T","x":8543,"v":-53},{"c":"T","x":8595,"v":-63},{"c":"T","x":8646,"v":-38},{"c":"T","x":8698,"v":-108},{"c":"T","x":8750,"v":-23},{"c":"T","x":8801,"v":-38},{"c":"T","x":8853,"v":-38},{"c":"T","x":8905,"v":-108},{"c":"T","x":8946,"v":-38},{"c":"T","x":8982,"v":-23},{"c":"T","x":9034,"v":-8},{"c":"T","x":9086,"v":-68},{"c":"T","x":9137,"v":-28},{"c":"T","x":9189,"v":-118},{"c":"T","x":9241,"v":-48},{"c":"T","x":9293,"v":-13},{"c":"T","x":9318,"v":17},{"c":"T","x":9360,"v":-53},{"c":"T","x":9422,"v":-73},{"c":"T","x":9473,"v":-18},{"c":"T","x":9525,"v":-63},{"c":"T","x":9577,"v":-38},{"c":"T","x":9629,"v":-73},{"c":"T","x":9680,"v":-23},{"c":"T","x":9732,"v":-63},{"c":"T","x":9784,"v":-13},{"c":"T","x":9835,"v":-73},{"c":"T","x":9887,"v":-48},{"c":"T","x":9939,"v":-68},{"c":"T","x":9990,"v":-23},{"c":"T","x":10042,"v":-43},{"c":"T","x":10094,"v":-33},{"c":"T","x":10171,"v":-118},{"c":"T","x":10223,"v":-28},{"c":"T","x":10275,"v":-8},{"c":"T","x":10326,"v":-63},{"c":"T","x":10378,"v":-13},{"c":"T","x":10430,"v":-73},{"c":"T","x":10482,"v":-53},{"c":"T","x":10533,"v":-18},{"c":"T","x":10611,"v":-58},{"c":"T","x":10663,"v":-38},{"c":"T","x":10714,"v":-68},{"c":"T","x":10766,"v":-48},{"c":"T","x":10818,"v":-33},{"c":"T","x":10869,"v":-23},{"c":"T","x":10921,"v":-73},{"c":"T","x":10973,"v":-38},{"c":"T","x":11024,"v":-63},{"c":"T","x":11076,"v":-43},{"c":"T","x":11128,"v":-13},{"c":"T","x":11180,"v":-73},{"c":"T","x":11231,"v":-8},{"c":"T","x":11283,"v":-63},{"c":"T","x":11335,"v":-38},{"c":"T","x":11386,"v":-73},{"c":"T","x":11438,"v":-53},{"c":"T","x":11490,"v":-83},{"c":"T","x":11552,"v":-48},{"c":"T","x":11603,"v":2},{"c":"T","x":11645,"v":-73},{"c":"T","x":11697,"v":-23},{"c":"T","x":11748,"v":-53},{"c":"T","x":11800,"v":-13},{"c":"T","x":11852,"v":-78},{"c":"T","x":11903,"v":-43},{"c":"T","x":11955,"v":-38},{"c":"T","x":12007,"v":-138},{"c":"T","x":12059,"v":-28},{"c":"T","x":12100,"v":27},{"c":"T","x":12136,"v":-53},{"c":"T","x":12188,"v":-28},{"c":"T","x":12239,"v":-68},{"c":"T","x":12291,"v":-38},{"c":"T","x":12343,"v":-53},{"c":"T","x":12421,"v":-38},{"c":"T","x":12498,"v":-28},{"c":"T","x":12550,"v":-43},{"c":"T","x":12601,"v":-88},{"c":"T","x":12653,"v":7},{"c":"T","x":12679,"v":-108},{"c":"T","x":12731,"v":-33},{"c":"T","x":12782,"v":-63},{"c":"T","x":12824,"v":2},{"c":"T","x":12860,"v":-88},{"c":"T","x":12912,"v":-23},{"c":"T","x":12963,"v":-63},{"c":"T","x":13015,"v":-33},{"c":"T","x":13067,"v":-88},{"c":"T","x":13118,"v":-38},{"c":"T","x":13170,"v":-13},{"c":"T","x":13222,"v":-73},{"c":"T","x":13273,"v":-38},{"c":"T","x":13325,"v":-63},{"c":"T","x":13377,"v":-28},{"c":"T","x":13429,"v":-103},{"c":"T","x":13480,"v":-43},{"c":"T","x":13516,"v":-8},{"c":"T","x":13558,"v":-58},{"c":"T","x":13609,"v":-33},{"c":"T","x":13661,"v":-68},{"c":"T","x":13713,"v":-38},{"c":"T","x":13764,"v":-58},{"c":"T","x":13816,"v":-33},{"c":"T","x":13868,"v":-58},{"c":"T","x":13920,"v":-38},{"c":"T","x":13971,"v":-68},{"c":"T","x":14023,"v":-33},{"c":"T","x":14075,"v":-68},{"c":"T","x":14126,"v":-93},{"c":"T","x":14178,"v":-38},{"c":"T","x":14230,"v":-3},{"c":"T","x":14282,"v":-28},{"c":"T","x":14333,"v":-73},{"c":"T","x":14385,"v":-63},{"c":"T","x":14437,"v":-58},{"c":"T","x":14488,"v":-33},{"c":"T","x":14540,"v":-3},{"c":"T","x":14592,"v":-33},{"c":"T","x":14643,"v":-63},{"c":"T","x":14695,"v":-73},{"c":"T","x":14747,"v":-123},{"c":"T","x":14799,"v":-63},{"c":"T","x":14830,"v":27},{"c":"T","x":14851,"v":149},{"c":"T","x":14876,"v":-23},{"c":"T","x":14912,"v":-68},{"c":"T","x":14980,"v":-73},{"c":"T","x":15032,"v":-88},{"c":"T","x":15083,"v":-93},{"c":"T","x":15135,"v":-38},{"c":"T","x":15186,"v":42},{"c":"T","x":15223,"v":12},{"c":"T","x":15264,"v":-58},{"c":"T","x":15316,"v":-63},{"c":"T","x":15367,"v":-78},{"c":"T","x":15419,"v":-73},{"c":"T","x":15471,"v":-53},{"c":"T","x":15523,"v":-43},{"c":"T","x":15574,"v":-33},{"c":"T","x":15626,"v":-8},{"c":"T","x":15667,"v":-43},{"c":"T","x":15703,"v":-53},{"c":"T","x":15755,"v":-68},{"c":"T","x":15807,"v":-78}
]},
"vconcat":[
{"width":1200,"height":118.46,"layer":[
{"data":{"name":"trace"},"transform":[{"filter":"datum.c === 'N'"}],"mark":{"type":"line","color":"black","strokeWidth":2.08,"interpolate":"monotone"},"encoding":{"x":{"field":"x","type":"quantitative","scale":{"domain":[-790,16590],"nice":false,"zero":false},"axis":{"title":null,"labels":false,"values":[0,2000,4000,6000,8000,10000,12000,14000,16000]}},"y":{"field":"v","type":"quantitative","scale":{"domain":[-177.7,177.7],"nice":false,"zero":false},"axis":null}}},
{"data":{"name":"picks"},"mark":{"type":"rule","color":"#17becf","strokeWidth":2.78,"strokeDash":[10.3,4.4]},"encoding":{"x":{"field":"t","type":"quantitative"}}},
{"data":{"values":[{"c":"N"}]},"mark":{"type":"text","align":"left","baseline":"middle","fontSize":13.9,"color":"black","font":"DejaVu Sans"},"encoding":{"x":{"datum":-616},"y":{"datum":140},"text":{"field":"c"}}}
]},
{"width":1200,"height":118.46,"layer":[
{"data":{"name":"trace"},"transform":[{"filter":"datum.c === 'E'"}],"mark":{"type":"line","color":"black","strokeWidth":2.08,"interpolate":"monotone"},"encoding":{"x":{"field":"x","type":"quantitative","scale":{"domain":[-790,16590],"nice":false,"zero":false},"axis":{"title":null,"labels":false,"values":[0,2000,4000,6000,8000,10000,12000,14000,16000]}},"y":{"field":"v","type":"quantitative","scale":{"domain":[-177.7,177.7],"nice":false,"zero":false},"axis":null}}},
{"data":{"name":"picks"},"mark":{"type":"rule","color":"#17becf","strokeWidth":2.78,"strokeDash":[10.3,4.4]},"encoding":{"x":{"field":"t","type":"quantitative"}}},
{"data":{"values":[{"c":"E"}]},"mark":{"type":"text","align":"left","baseline":"middle","fontSize":13.9,"color":"black","font":"DejaVu Sans"},"encoding":{"x":{"datum":-616},"y":{"datum":140},"text":{"field":"c"}}}
]},
{"width":1200,"height":118.46,"layer":[
{"data":{"name":"trace"},"transform":[{"filter":"datum.c === 'Z'"}],"mark":{"type":"line","color":"black","strokeWidth":2.08,"interpolate":"monotone"},"encoding":{"x":{"field":"x","type":"quantitative","scale":{"domain":[-790,16590],"nice":false,"zero":false},"axis":{"title":null,"labels":false,"values":[0,2000,4000,6000,8000,10000,12000,14000,16000]}},"y":{"field":"v","type":"quantitative","scale":{"domain":[-177.7,177.7],"nice":false,"zero":false},"axis":null}}},
{"data":{"name":"picks"},"mark":{"type":"rule","color":"#17becf","strokeWidth":2.78,"strokeDash":[10.3,4.4]},"encoding":{"x":{"field":"t","type":"quantitative"}}},
{"data":{"values":[{"c":"Z"}]},"mark":{"type":"text","align":"left","baseline":"middle","fontSize":13.9,"color":"black","font":"DejaVu Sans"},"encoding":{"x":{"datum":-616},"y":{"datum":140},"text":{"field":"c"}}}
]},
{"width":1200,"height":118.46,"layer":[
{"data":{"name":"trace"},"transform":[{"filter":"datum.c === 'R'"}],"mark":{"type":"line","color":"black","strokeWidth":2.08,"interpolate":"monotone"},"encoding":{"x":{"field":"x","type":"quantitative","scale":{"domain":[-790,16590],"nice":false,"zero":false},"axis":{"title":null,"labels":false,"values":[0,2000,4000,6000,8000,10000,12000,14000,16000]}},"y":{"field":"v","type":"quantitative","scale":{"domain":[-177.7,177.7],"nice":false,"zero":false},"axis":null}}},
{"data":{"name":"picks"},"mark":{"type":"rule","color":"#17becf","strokeWidth":2.78,"strokeDash":[10.3,4.4]},"encoding":{"x":{"field":"t","type":"quantitative"}}},
{"data":{"values":[{"c":"R"}]},"mark":{"type":"text","align":"left","baseline":"middle","fontSize":13.9,"color":"black","font":"DejaVu Sans"},"encoding":{"x":{"datum":-616},"y":{"datum":140},"text":{"field":"c"}}}
]},
{"width":1200,"height":118.46,"layer":[
{"data":{"name":"trace"},"transform":[{"filter":"datum.c === 'T'"}],"mark":{"type":"line","color":"black","strokeWidth":2.08,"interpolate":"monotone"},"encoding":{"x":{"field":"x","type":"quantitative","scale":{"domain":[-790,16590],"nice":false,"zero":false},"axis":{"title":null,"labels":true,"values":[0,2000,4000,6000,8000,10000,12000,14000,16000]}},"y":{"field":"v","type":"quantitative","scale":{"domain":[-177.7,177.7],"nice":false,"zero":false},"axis":null}}},
{"data":{"name":"picks"},"mark":{"type":"rule","color":"#17becf","strokeWidth":2.78,"strokeDash":[10.3,4.4]},"encoding":{"x":{"field":"t","type":"quantitative"}}},
{"data":{"values":[{"c":"T"}]},"mark":{"type":"text","align":"left","baseline":"middle","fontSize":13.9,"color":"black","font":"DejaVu Sans"},"encoding":{"x":{"datum":-616},"y":{"datum":140},"text":{"field":"c"}}}
]}
]
}
